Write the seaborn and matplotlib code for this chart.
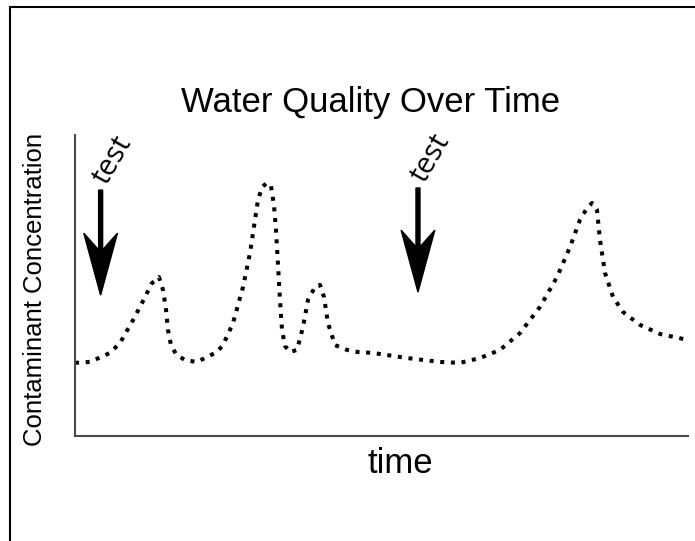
import matplotlib
matplotlib.use("Agg")
import matplotlib.pyplot as plt
from matplotlib.patches import Rectangle
import seaborn as sns
import pandas as pd

# ---- data ----
time_vals = [0, 2.45, 5.71, 7.34, 9.46, 10.93, 12.56, 13.70, 14.36, 14.85, 15.17,
             15.66, 16.48, 17.94, 19.90, 23.16, 24.14, 25.77, 27.41, 28.55, 29.36,
             29.85, 30.51, 31.32, 31.97, 32.46, 32.79, 33.12, 33.44, 33.77, 34.26,
             35.07, 36.22, 37.19, 38.01, 39.15, 39.97, 40.62, 41.27, 42.41, 44.37,
             46.17, 48.61, 54.16, 59.54, 62.81, 66.07, 69.33, 72.59, 75.86, 78.63,
             80.75, 82.38, 83.52, 84.34, 85.15, 85.64, 86.46, 87.77, 89.40, 92.17,
             95.43, 100]
concentration = [2.43, 2.46, 2.76, 3.09, 3.85, 4.42, 5.08, 5.28, 4.85, 4.19, 3.52,
                 3.02, 2.72, 2.52, 2.46, 2.79, 3.02, 3.75, 4.95, 6.08, 7.18,
                 7.84, 8.27, 8.41, 8.31, 7.67, 6.84, 5.68, 4.52, 3.52, 2.99,
                 2.79, 2.86, 3.62, 4.52, 4.95, 5.02, 4.62, 3.75, 3.02, 2.86,
                 2.79, 2.76, 2.59, 2.46, 2.43, 2.59, 2.86, 3.42, 4.29, 5.28,
                 6.28, 7.18, 7.57, 7.74, 7.51, 6.51, 5.42, 4.62, 4.12, 3.69,
                 3.39, 3.19]
test_times = [4.18, 55.95]
test_label = "test"
title_text = "Water Quality Over Time"
x_label = "time"
y_label = "Contaminant Concentration"

df = pd.DataFrame({"time": time_vals, "conc": concentration})

sns.set_style("white")
plt.rcParams["font.family"] = ["Liberation Sans", "DejaVu Sans"]
plt.rcParams["text.color"] = "black"
plt.rcParams["axes.labelcolor"] = "black"

W, H = 695, 541
fig = plt.figure(figsize=(W / 100, H / 100), dpi=100)
ax = fig.add_axes([75 / W, (H - 436) / H, (688 - 75) / W, (436 - 135) / H])

sns.lineplot(data=df, x="time", y="conc", ax=ax, color="black",
             linestyle=":", linewidth=2.9, sort=False, estimator=None)

ax.set_xlim(0, 100)
ax.set_ylim(0, 10)
ax.set_xticks([])
ax.set_yticks([])
sns.despine(ax=ax)
for s in ("left", "bottom"):
    ax.spines[s].set_color("#4a4a4a")
    ax.spines[s].set_linewidth(1.5)

# arrows and labels for the test events
arrow_top = [8.17, 8.24]
arrow_tip = [4.68, 4.78]
for tx, top, tip in zip(test_times, arrow_top, arrow_tip):
    ax.arrow(tx, top, 0, tip - top, width=0.65, head_width=5.5, head_length=2.06,
             overhang=0.27, length_includes_head=True, color="black", clip_on=False)
    ax.text(tx + 2.0, top + 0.98, test_label, rotation=60, ha="center", va="center",
            fontsize=21, color="black", family=["Open Sans", "DejaVu Sans"], clip_on=False)

ax.set_title(title_text, fontsize=25, color="black",
             x=(371 - 75) / 613, y=(436 - 112) / 301, pad=0)
ax.set_xlabel(x_label, fontsize=25)
ax.xaxis.set_label_coords((400 - 75) / 613, -0.0365)
ax.set_ylabel(y_label, fontsize=18.5)
ax.yaxis.set_label_coords(-0.046, 0.488)

# outer frame (clipped at right and bottom in the reference)
fig.patches.append(Rectangle((10 / W, -0.2), 1.5, 1.2 - 7 / H, transform=fig.transFigure,
                             fill=False, edgecolor="black", linewidth=1.5))

fig.savefig("out.png", dpi=100)
